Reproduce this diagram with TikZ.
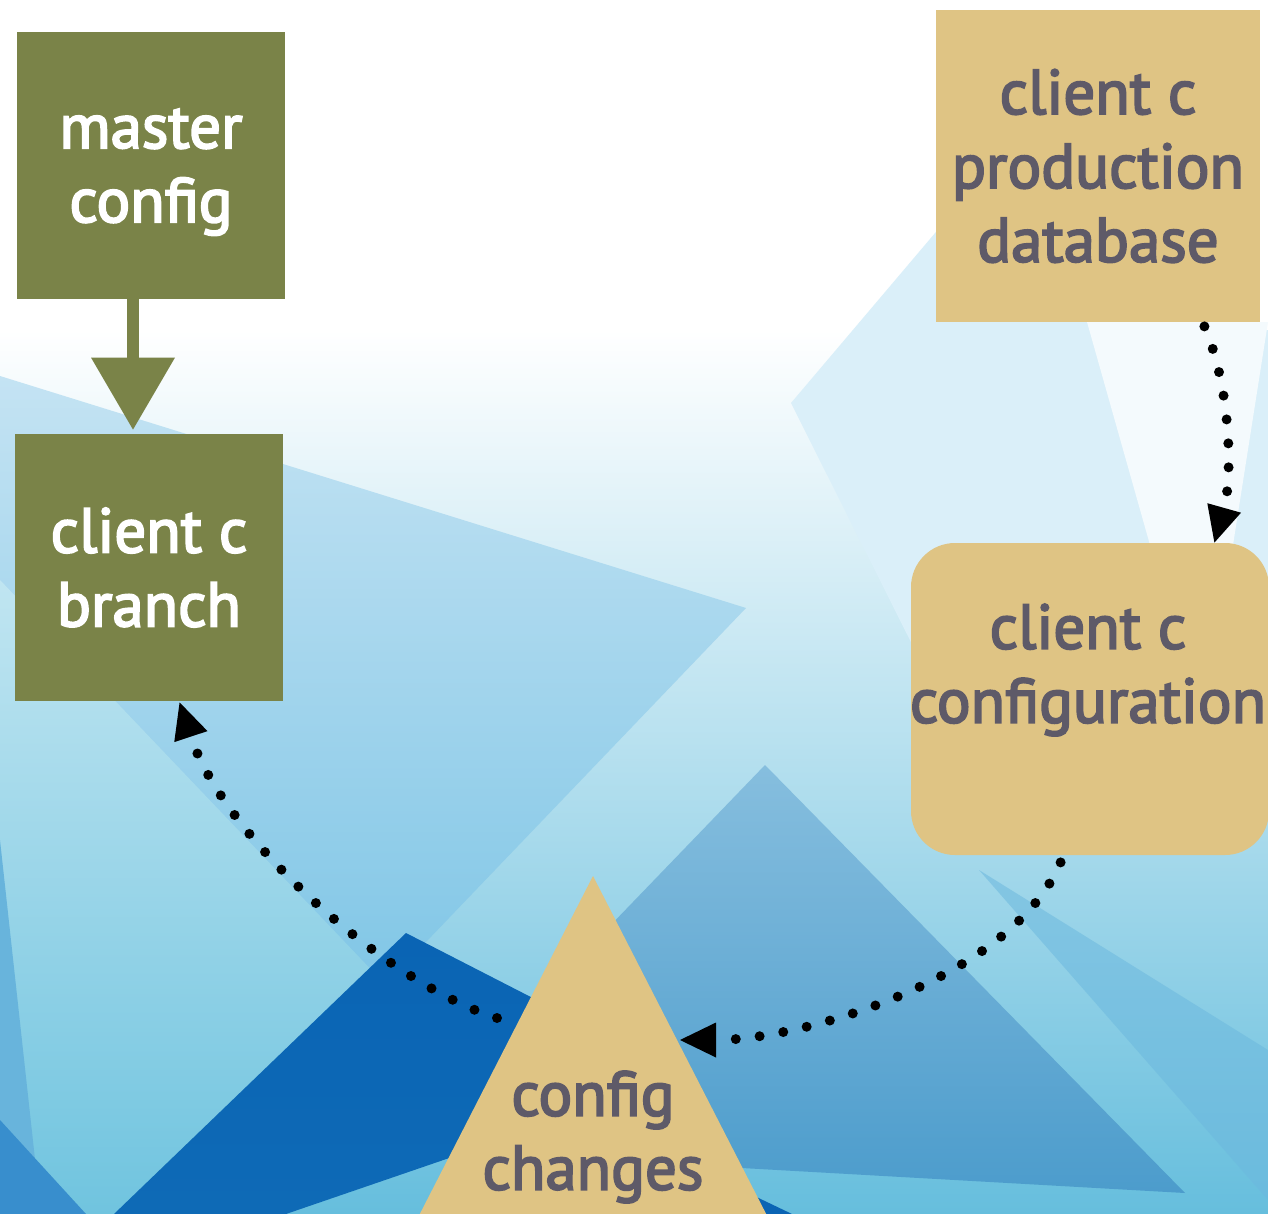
\documentclass[tikz,border=0pt]{standalone}
\usepackage{fontspec}
\newfontfamily\dinfont{PT Sans}[RawFeature={embolden=3}]
\usetikzlibrary{arrows.meta,calc}
\definecolor{olivebox}{RGB}{122,131,72}
\definecolor{tanbox}{RGB}{223,196,132}
\definecolor{tantext}{RGB}{94,90,104}
\definecolor{bgmid}{RGB}{182,223,238}
\definecolor{bgbot}{RGB}{102,190,221}
\definecolor{shAtop}{RGB}{196,227,243}
\definecolor{shAbot}{RGB}{128,198,230}
\definecolor{wedgetop}{RGB}{192,229,241}
\definecolor{wedgebot}{RGB}{112,196,223}
\definecolor{darkblue}{RGB}{10,100,180}
\definecolor{darkblue2}{RGB}{14,106,182}
\definecolor{medtop}{RGB}{134,190,222}
\definecolor{medbot}{RGB}{76,156,204}
\definecolor{paleshard}{RGB}{218,239,249}
\definecolor{leftdark}{RGB}{56,142,205}
\definecolor{leftmid}{RGB}{104,180,220}
\definecolor{rightshard}{RGB}{108,184,222}
\tikzset{
  boxfont/.style={font=\dinfont\fontsize{31.5}{37}\selectfont},
  greenbox/.style={fill=olivebox, inner sep=0pt, text=white, align=center, boxfont},
  tanrect/.style={fill=tanbox, inner sep=0pt, text=tantext, align=center, boxfont},
  tanlabel/.style={inner sep=0pt, text=tantext, align=center, boxfont},
  dotflow/.style={line width=5pt, line cap=round, dash pattern=on 0pt off 12pt,
    arrows={-Triangle[length=18pt,width=17.5pt,line width=0pt]}},
  sketcharrow/.style={draw=olivebox, line width=6pt,
    arrows={-Triangle[length=36pt,width=42pt,line width=0pt,fill=olivebox]}}
}
\begin{document}
\begin{tikzpicture}[x=0.5pt,y=-0.5pt]
\useasboundingbox (0,0) rectangle (1268,1214);
% ---------------- background ----------------
\begin{scope}
\clip (0,0) rectangle (1268,1214);
\fill[white] (0,0) rectangle (1268,340);
\shade[top color=white, middle color=bgmid, bottom color=bgbot] (0,330) rectangle (1268,1214);
% pale shard on the right
\fill[paleshard] (791,403) -- (980,180) -- (1255,180) -- (1255,330) -- (1268,330) -- (1268,720) -- (950,720) -- cycle;
% white shard below the database box
\fill[white!70!paleshard] (1087,322) -- (1268,322) -- (1233,545) -- (1150,545) -- cycle;
% big left shard
\shade[top color=shAtop, bottom color=shAbot] (0,376) -- (746,608) -- (380,990) -- (0,990) -- cycle;
% lighter left wedge
\shade[top color=wedgetop, bottom color=wedgebot] (0,580) -- (400,1000) -- (114,1214) -- (0,1214) -- cycle;
\fill[leftmid] (0,840) -- (41,1214) -- (0,1214) -- cycle;
\fill[leftdark] (0,1120) -- (86,1214) -- (0,1214) -- cycle;
% medium triangle
\shade[top color=medtop, bottom color=medbot] (765,765) -- (1185,1193) -- (600,1160) -- (500,1040) -- cycle;
% shard below the configuration box
\fill[rightshard, opacity=0.55] (979,870) -- (1268,1050) -- (1268,1200) -- cycle;
% dark triangle
\shade[top color=darkblue, bottom color=darkblue2] (406,933) -- (640,1053) -- (560,1120) -- (286,1214) -- (114,1214) -- cycle;
\fill[darkblue] (700,1170) -- (792,1214) -- (700,1214) -- cycle;
% config changes triangle
\fill[tanbox] (593,876) -- (800,1280) -- (386,1280) -- cycle;
\end{scope}
% ---------------- nodes ----------------
\node[greenbox, text depth=0pt, minimum width=134pt, minimum height=133.5pt] (master) at (151,165.5) {master\\config};
\node[greenbox, minimum width=134pt, minimum height=133.5pt] (branch) at (149,567.5) {client c\\branch};
\node[tanrect, minimum width=162pt, minimum height=156pt] (prod) at (1098,166) {client c\\production\\database};
\node[fill=tanbox, inner sep=0pt, rounded corners=22pt, minimum width=179pt, minimum height=156pt] (config) at (1090,699) {};
\node[tanlabel] (configtext) at (1088,670) {client c\\configuration};
\node[tanlabel] (changes) at (593,1137) {config\\changes};
\coordinate (ccleft) at (497,1018);
\coordinate (ccright) at (680,1040);
% ---------------- connectors ----------------
\draw[sketcharrow] ($(master.south)+(-18,0)$) -- ($(branch.north)+(-16,-4)$);
\draw[dotflow] ($(prod.south east)+(-56,4)$) .. controls (1232,390) and (1232,480) .. ($(config.north east)+(-55,0)$);
\draw[dotflow] ($(config.south west)+(150,7)$) .. controls (1010,980) and (800,1040) .. (ccright);
\draw[dotflow] (ccleft) .. controls (390,985) and (225,840) .. ($(branch.south west)+(165,1)$);
\end{tikzpicture}
\end{document}
